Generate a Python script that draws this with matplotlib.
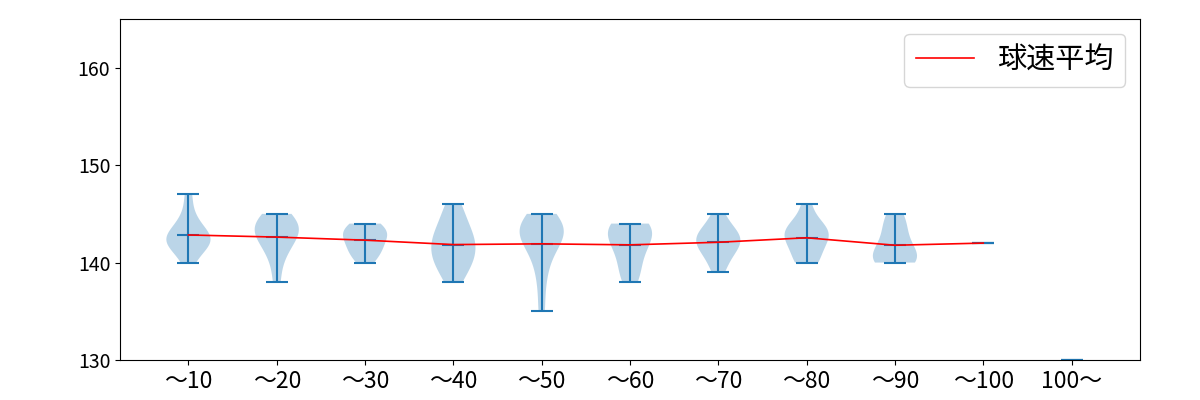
import matplotlib
matplotlib.use("Agg")
import matplotlib.pyplot as plt
import numpy as np

plt.rcParams['font.family'] = ['Noto Sans CJK JP', 'DejaVu Sans']

labels = ["～10", "～20", "～30", "～40", "～50", "～60", "～70", "～80", "～90", "～100", "100～"]

bin_10 = [140, 141, 142, 142, 142, 142, 143, 143, 143, 144, 145, 147]
bin_20 = [138, 140, 141, 142, 142, 143, 143, 143, 144, 144, 144, 145, 145]
bin_30 = [140, 141, 141, 142, 142, 143, 143, 143, 144, 144]
bin_40 = [138, 139, 140, 140, 141, 141, 142, 142, 143, 143, 144, 145, 146]
bin_50 = [135, 138, 140, 141, 142, 143, 143, 143, 143, 144, 144, 144, 145]
bin_60 = [138, 139, 140, 141, 142, 142, 143, 143, 144, 144, 144]
bin_70 = [139, 140, 141, 141, 142, 142, 142, 143, 143, 143, 144, 145]
bin_80 = [140, 140, 141, 142, 142, 143, 143, 143, 144, 144, 146]
bin_90 = [140, 140, 140, 141, 141, 142, 143, 144, 145]
bin_100 = [142]
bin_over = [130]

data = [bin_10, bin_20, bin_30, bin_40, bin_50, bin_60, bin_70, bin_80, bin_90, bin_100, bin_over]
means = [np.mean(d) for d in data[:10]]

fig = plt.figure(figsize=(12, 4), dpi=100)
ax = fig.add_axes([0.1, 0.1, 0.85, 0.8525])
positions = np.arange(1, len(data) + 1)
ax.violinplot(data, positions=positions, showmeans=True, showextrema=True)
ax.plot(positions[:10], means, color='red', linewidth=1.2, label='球速平均')
ax.set_ylim(130, 165)
ax.set_yticks([130, 140, 150, 160])
ax.set_xticks(positions)
ax.set_xticklabels(labels, fontsize=16.5)
ax.tick_params(axis='y', labelsize=14)
ax.legend(loc='upper right', fontsize=21)
fig.savefig("out.png")
